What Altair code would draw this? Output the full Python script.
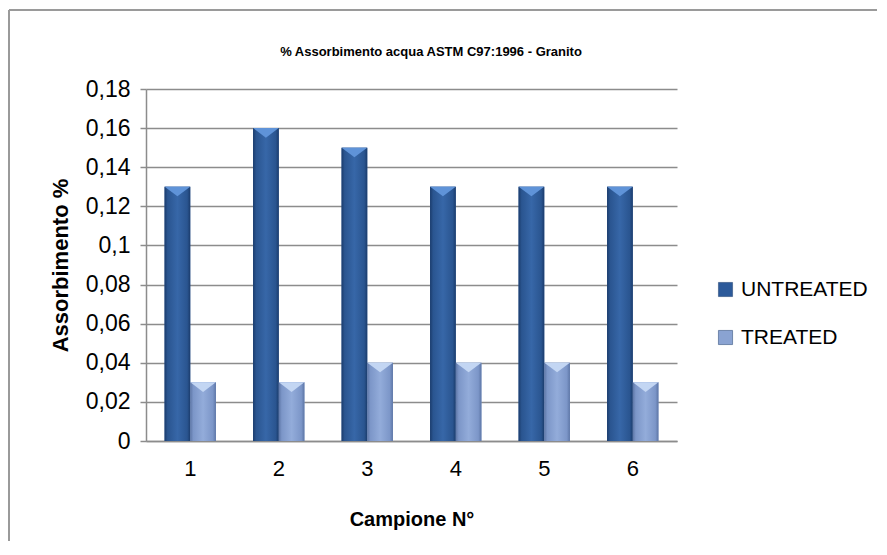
import altair as alt
import pandas as pd

campioni = ["1", "2", "3", "4", "5", "6"]
untreated = [0.13, 0.16, 0.15, 0.13, 0.13, 0.13]
treated = [0.03, 0.03, 0.04, 0.04, 0.04, 0.03]
series = ["UNTREATED", "TREATED"]
y_ticks = [0, 0.02, 0.04, 0.06, 0.08, 0.10, 0.12, 0.14, 0.16, 0.18]
title_text = "% Assorbimento acqua ASTM C97:1996  - Granito"

rows = []
for c, u, t in zip(campioni, untreated, treated):
    rows.append({"campione": c, "serie": series[0], "valore": u})
    rows.append({"campione": c, "serie": series[1], "valore": t})
df = pd.DataFrame(rows)

FONT = "Liberation Sans"

x_enc = alt.X("campione:N", sort=campioni,
              scale=alt.Scale(paddingInner=0.42, paddingOuter=0.21),
              axis=alt.Axis(title="Campione N°", labelAngle=0, ticks=False,
                            labelPadding=17, titlePadding=30, labelFontSize=22,
                            domainColor="#8c8c8c", domainWidth=1.5))
xo_enc = alt.XOffset("serie:N", sort=series, scale=alt.Scale(domain=series, paddingInner=0, paddingOuter=0))
y_enc = alt.Y("valore:Q", scale=alt.Scale(domain=[0, 0.18], nice=False),
              axis=alt.Axis(title="Assorbimento %", values=y_ticks,
                            labelExpr="replace(format(datum.value, '.2~f'), '.', ',')",
                            tickSize=6, tickColor="#8c8c8c", tickWidth=1.5,
                            gridColor="#8c8c8c", gridWidth=1.5,
                            domainColor="#8c8c8c", domainWidth=1.5,
                            labelFontSize=23, titleFontSize=22,
                            labelPadding=10, titlePadding=13))

base = alt.Chart(df)

legend_bars = base.mark_bar().encode(
    x=x_enc, xOffset=xo_enc, y=y_enc,
    color=alt.Color("serie:N", sort=series,
                    scale=alt.Scale(domain=series, range=["#2c5a9a", "#8aa3d2"]),
                    legend=alt.Legend(title=None, orient="none", legendX=569, legendY=190,
                                      symbolType="square", symbolSize=200,
                                      symbolStrokeColor="#1f3f6e", symbolStrokeWidth=0.5,
                                      labelFontSize=21, labelFont=FONT, labelColor="#000000",
                                      rowPadding=26, labelOffset=5))
)

def grad(stops):
    return alt.LinearGradient(
        gradient="linear", x1=0, x2=1, y1=0, y2=0,
        stops=[alt.GradientStop(offset=o, color=c) for o, c in stops])

un_bars = base.transform_filter(alt.datum.serie == series[0]).mark_bar(
    color=grad([(0, "#1b3c6c"), (0.12, "#2a5590"), (0.5, "#3767a8"), (0.88, "#2a5590"), (1, "#1b3c6c")])
).encode(x=x_enc, xOffset=xo_enc, y=y_enc)

tr_bars = base.transform_filter(alt.datum.serie == series[1]).mark_bar(
    color=grad([(0, "#5d76a6"), (0.12, "#7c96c8"), (0.5, "#93acda"), (0.88, "#7c96c8"), (1, "#5d76a6")])
).encode(x=x_enc, xOffset=xo_enc, y=y_enc)

tri_path = "M-1,0L1,0L0,0.75Z"
un_tri = base.transform_filter(alt.datum.serie == series[0]).mark_point(
    shape=tri_path, filled=True, size=650, opacity=1, color="#5f93d8", strokeWidth=0
).encode(x=x_enc, xOffset=xo_enc, y=y_enc)
tr_tri = base.transform_filter(alt.datum.serie == series[1]).mark_point(
    shape=tri_path, filled=True, size=650, opacity=1, color="#c3d6f3", strokeWidth=0
).encode(x=x_enc, xOffset=xo_enc, y=y_enc)

deco = alt.Data(values=[{"t": title_text}])
title_mark = alt.Chart(deco).mark_text(
    font=FONT, fontSize=13, fontWeight="bold", color="#000000", align="center", baseline="middle"
).encode(text="t:N", x=alt.value(285), y=alt.value(-37))

border_top = alt.Chart(deco).mark_rule(color="#9a9a9a", strokeWidth=2).encode(
    x=alt.value(-137), x2=alt.value(900), y=alt.value(-79))
border_left = alt.Chart(deco).mark_rule(color="#9a9a9a", strokeWidth=2).encode(
    x=alt.value(-137), y=alt.value(-79), y2=alt.value(600))

chart = alt.layer(legend_bars, un_bars, tr_bars, un_tri, tr_tri, title_mark, border_top, border_left).properties(
    width=531, height=352,
    autosize=alt.AutoSizeParams(type="none"),
    padding={"left": 138, "top": 81, "right": 200, "bottom": 100},
    background="white",
).configure_axis(
    labelFont=FONT, labelColor="#000000",
    titleFont=FONT, titleFontSize=20, titleFontWeight="bold", titleColor="#000000",
).configure_axisX(grid=False).configure_view(stroke=None)

chart.save("out.html", embed_options={"renderer": "svg", "actions": False})
